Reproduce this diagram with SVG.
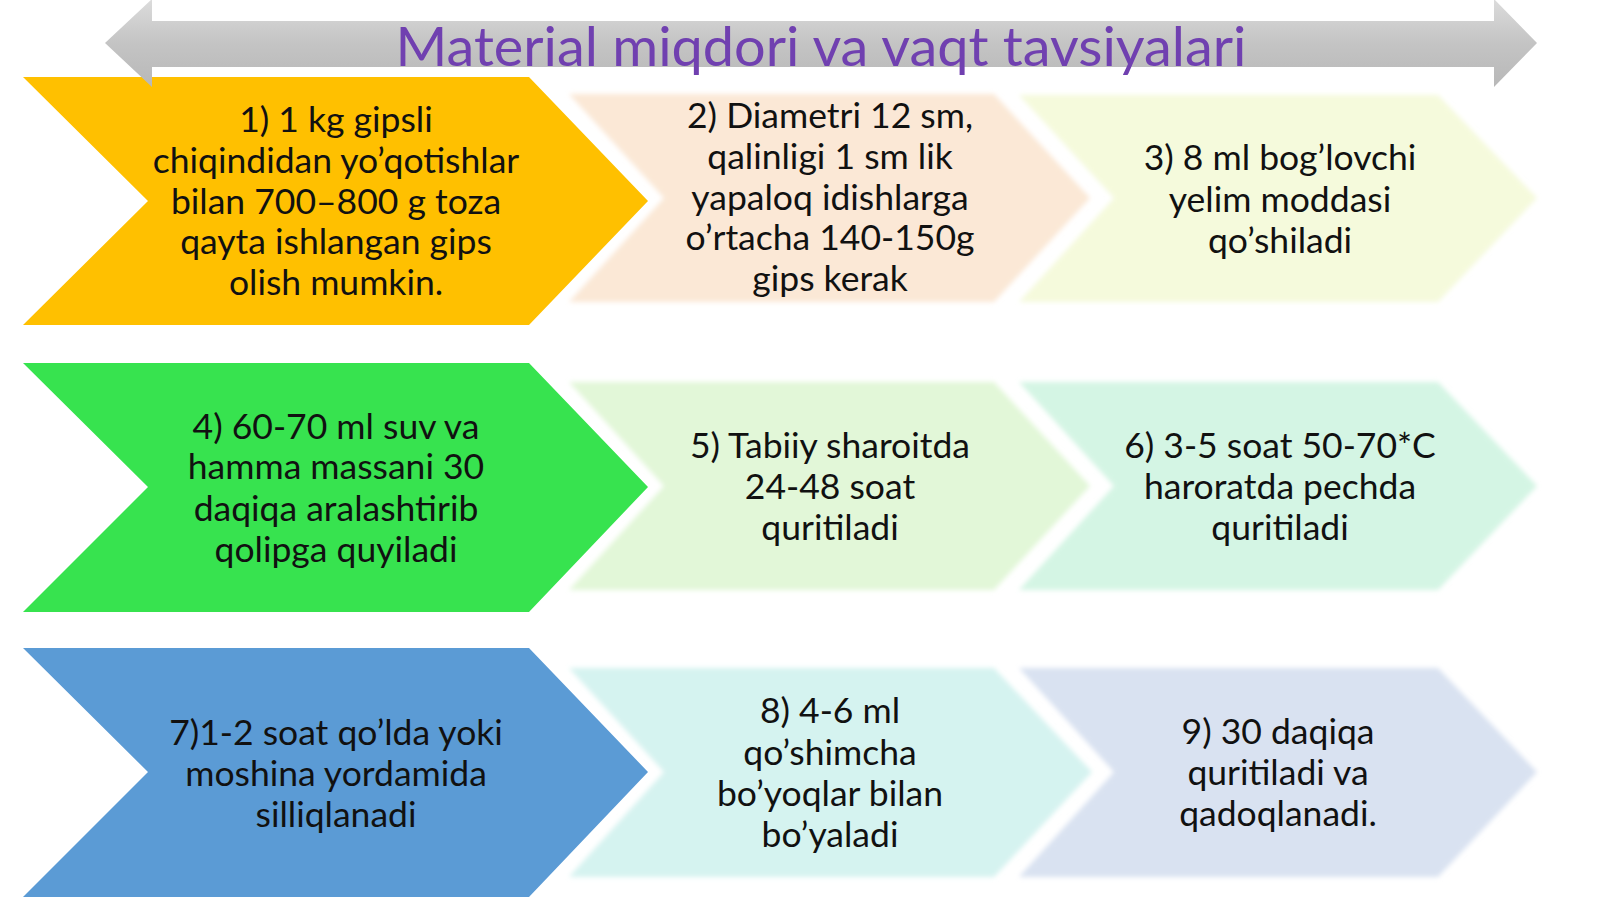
<svg xmlns="http://www.w3.org/2000/svg" width="1600" height="899" viewBox="0 0 1600 899">
  <defs>
    <linearGradient id="grayGrad" x1="0" y1="0" x2="0" y2="1">
      <stop offset="0" stop-color="#dcdcdc"/>
      <stop offset="0.5" stop-color="#c4c4c4"/>
      <stop offset="1" stop-color="#b8b8b8"/>
    </linearGradient>
    <filter id="soft" x="-5%" y="-5%" width="110%" height="110%">
      <feGaussianBlur stdDeviation="2.5"/>
    </filter>
  </defs>
  <style>
    .t { font-family: Lato, "Liberation Sans", sans-serif; font-size: 35.5px; fill: #111111; text-anchor: middle; }
    .title { font-family: Lato, "Liberation Sans", sans-serif; font-size: 54px; fill: #7040b0; text-anchor: middle; }
    .soft { filter: url(#soft); }
  </style>
  <rect x="0" y="0" width="1600" height="899" fill="#ffffff"/>

  <!-- Row 1 -->
  <g id="node2">
    <path class="soft" d="M569,94 L994,94 L1090,198 L994,302 L569,302 L664,198 Z" fill="#fbe8d6"/>
    <text class="t" x="830" y="128">2) Diametri 12 sm,</text>
    <text class="t" x="830" y="169">qalinligi 1 sm lik</text>
    <text class="t" x="830" y="210">yapaloq idishlarga</text>
    <text class="t" x="830" y="250">o’rtacha 140-150g</text>
    <text class="t" x="830" y="291">gips kerak</text>
  </g>
  <g id="node3">
    <path class="soft" d="M1019,95 L1438,95 L1537,198 L1438,302 L1019,302 L1114,198 Z" fill="#f5fadc"/>
    <text class="t" x="1280" y="170">3) 8 ml bog’lovchi</text>
    <text class="t" x="1280" y="212">yelim moddasi</text>
    <text class="t" x="1280" y="253">qo’shiladi</text>
  </g>
  <g id="node1">
    <path d="M23,77 L529,77 L648,201 L529,325 L23,325 L148,201 Z" fill="#ffc000"/>
    <text class="t" x="336" y="132">1) 1 kg gipsli</text>
    <text class="t" x="336" y="173">chiqindidan yo’qotishlar</text>
    <text class="t" x="336" y="214">bilan 700–800 g toza</text>
    <text class="t" x="336" y="254">qayta ishlangan gips</text>
    <text class="t" x="336" y="295">olish mumkin.</text>
  </g>

  <!-- Row 2 -->
  <g id="node5">
    <path class="soft" d="M569,382 L994,382 L1090,486 L994,590 L569,590 L664,486 Z" fill="#e2f7d8"/>
    <text class="t" x="830" y="458">5) Tabiiy sharoitda</text>
    <text class="t" x="830" y="499">24-48 soat</text>
    <text class="t" x="830" y="540">quritiladi</text>
  </g>
  <g id="node6">
    <path class="soft" d="M1019,382 L1438,382 L1537,486 L1438,590 L1019,590 L1114,486 Z" fill="#d4f5e4"/>
    <text class="t" x="1280" y="458">6) 3-5 soat 50-70*C</text>
    <text class="t" x="1280" y="499">haroratda pechda</text>
    <text class="t" x="1280" y="540">quritiladi</text>
  </g>
  <g id="node4">
    <path d="M23,363 L529,363 L648,487 L529,612 L23,612 L148,487 Z" fill="#37e34f"/>
    <text class="t" x="336" y="439">4) 60-70 ml suv va</text>
    <text class="t" x="336" y="479">hamma massani 30</text>
    <text class="t" x="336" y="521">daqiqa aralashtirib</text>
    <text class="t" x="336" y="562">qolipga quyiladi</text>
  </g>

  <!-- Row 3 -->
  <g id="node8">
    <path class="soft" d="M569,668 L994,668 L1092,772 L994,877 L569,877 L664,772 Z" fill="#d5f3f0"/>
    <text class="t" x="830" y="723">8) 4-6 ml</text>
    <text class="t" x="830" y="765">qo’shimcha</text>
    <text class="t" x="830" y="806">bo’yoqlar bilan</text>
    <text class="t" x="830" y="847">bo’yaladi</text>
  </g>
  <g id="node9">
    <path class="soft" d="M1019,668 L1438,668 L1537,772 L1438,877 L1019,877 L1114,772 Z" fill="#d9e2f1"/>
    <text class="t" x="1278" y="744">9) 30 daqiqa</text>
    <text class="t" x="1278" y="785">quritiladi va</text>
    <text class="t" x="1278" y="826">qadoqlanadi.</text>
  </g>
  <g id="node7">
    <path d="M23,648 L529,648 L648,772 L529,897 L23,897 L148,772 Z" fill="#5b9bd5"/>
    <text class="t" x="336" y="745">7)1-2 soat qo’lda yoki</text>
    <text class="t" x="336" y="786">moshina yordamida</text>
    <text class="t" x="336" y="827">silliqlanadi</text>
  </g>

  <!-- Title bar: double-headed arrow -->
  <g id="title-arrow">
    <path d="M105,43 L152,-1 L152,21 L1494,21 L1494,-1 L1537,43 L1494,87 L1494,67 L152,67 L152,87 Z" fill="url(#grayGrad)"/>
    <text class="title" x="821" y="66" textLength="851" lengthAdjust="spacingAndGlyphs">Material miqdori va vaqt tavsiyalari</text>
  </g>
</svg>
